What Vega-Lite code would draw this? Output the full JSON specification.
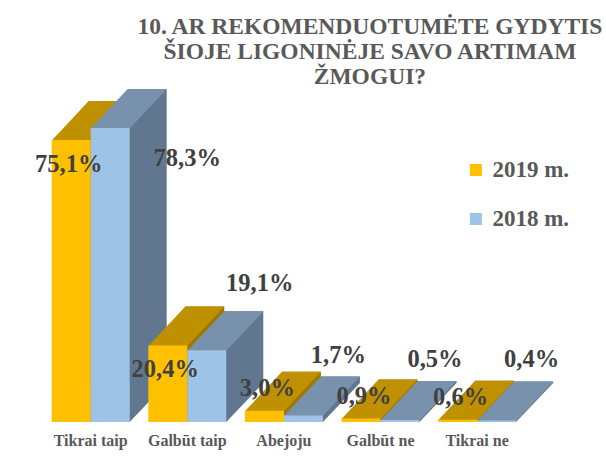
{
  "$schema": "https://vega.github.io/schema/vega-lite/v6.json",
  "width": 483,
  "height": 375.5,
  "autosize": {"type": "none"},
  "padding": {"left": 42.4, "top": 46.5, "right": 80.6, "bottom": 35},
  "background": "white",
  "title": {
    "text": ["10. AR REKOMENDUOTUMĖTE GYDYTIS", "ŠIOJE LIGONINĖJE SAVO ARTIMAM", "ŽMOGUI?"],
    "font": "Liberation Serif",
    "fontWeight": "bold",
    "fontSize": 23.5,
    "color": "#595959",
    "lineHeight": 25,
    "anchor": "middle",
    "frame": "group",
    "dx": 86,
    "dy": 75,
    "offset": 14,
    "baseline": "alphabetic"
  },
  "data": {
    "values": [
      {"cat": "Tikrai taip", "series": "2019 m.", "value": 75.1, "label": "75,1%"},
      {"cat": "Tikrai taip", "series": "2018 m.", "value": 78.3, "label": "78,3%"},
      {"cat": "Galbūt taip", "series": "2019 m.", "value": 20.4, "label": "20,4%"},
      {"cat": "Galbūt taip", "series": "2018 m.", "value": 19.1, "label": "19,1%"},
      {"cat": "Abejoju", "series": "2019 m.", "value": 3.0, "label": "3,0%"},
      {"cat": "Abejoju", "series": "2018 m.", "value": 1.7, "label": "1,7%"},
      {"cat": "Galbūt ne", "series": "2019 m.", "value": 0.9, "label": "0,9%"},
      {"cat": "Galbūt ne", "series": "2018 m.", "value": 0.5, "label": "0,5%"},
      {"cat": "Tikrai ne", "series": "2019 m.", "value": 0.6, "label": "0,6%"},
      {"cat": "Tikrai ne", "series": "2018 m.", "value": 0.4, "label": "0,4%"}
    ]
  },
  "encoding": {
    "x": {
      "field": "cat",
      "type": "nominal",
      "sort": ["Tikrai taip", "Galbūt taip", "Abejoju", "Galbūt ne", "Tikrai ne"],
      "scale": {"paddingInner": 0.193, "paddingOuter": 0.0965},
      "axis": {
        "title": null,
        "domain": false,
        "ticks": false,
        "grid": false,
        "labelAngle": 0,
        "labelFont": "Liberation Serif",
        "labelFontWeight": "bold",
        "labelFontSize": 16,
        "labelColor": "#595959",
        "labelPadding": 10
      }
    }
  },
  "layer": [
    {
      "mark": {"type": "bar", "yOffset": -39, "y2Offset": -39},
      "encoding": {
        "xOffset": {"field": "series", "type": "nominal", "sort": ["2019 m.", "2018 m."], "scale": {"domain": ["2019 m.", "2018 m."], "range": [37, 114.96]}},
        "y": {"field": "value", "type": "quantitative", "scale": {"domain": [0, 100]}, "axis": null},
        "fill": {"condition": {"test": "datum.series == '2019 m.'", "value": "#9E7700"}, "value": "#60778F"}
      }
    },
    {
      "mark": {"type": "point", "shape": "M19,0.5L57,-39.5L19,-39.5Z", "size": 4, "filled": true, "opacity": 1, "strokeWidth": 0},
      "encoding": {
        "xOffset": {"field": "series", "type": "nominal", "sort": ["2019 m.", "2018 m."], "scale": {"domain": ["2019 m.", "2018 m."]}},
        "y": {"datum": 0, "type": "quantitative"},
        "fill": {"condition": {"test": "datum.series == '2019 m.'", "value": "#9E7700"}, "value": "#60778F"}
      }
    },
    {
      "mark": {"type": "point", "shape": "M-19.5,0.5L19.5,0.5L56.5,-39L17.5,-39Z", "size": 4, "filled": true, "opacity": 1, "strokeWidth": 0},
      "encoding": {
        "xOffset": {"field": "series", "type": "nominal", "sort": ["2019 m.", "2018 m."], "scale": {"domain": ["2019 m.", "2018 m."]}},
        "y": {"field": "value", "type": "quantitative"},
        "fill": {"condition": {"test": "datum.series == '2019 m.'", "value": "#BF9000"}, "value": "#7892AE"}
      }
    },
    {
      "mark": {"type": "bar"},
      "encoding": {
        "xOffset": {"field": "series", "type": "nominal", "sort": ["2019 m.", "2018 m."], "scale": {"domain": ["2019 m.", "2018 m."]}},
        "y": {"field": "value", "type": "quantitative"},
        "color": {
          "field": "series",
          "type": "nominal",
          "scale": {"domain": ["2019 m.", "2018 m."], "range": ["#FFC000", "#9DC3E6"]},
          "legend": {
            "orient": "none",
            "legendX": 422,
            "legendY": 112,
            "title": null,
            "symbolType": "square",
            "symbolSize": 144,
            "symbolStrokeWidth": 0,
            "labelFont": "Liberation Serif",
            "labelFontWeight": "bold",
            "labelFontSize": 23,
            "labelColor": "#595959",
            "labelOffset": 5,
            "rowPadding": 25,
            "padding": 0
          }
        }
      }
    },
    {
      "transform": [{"filter": "datum.series == '2019 m.' && datum.value > 10"}],
      "mark": {"type": "text", "font": "Liberation Serif", "fontWeight": "bold", "fontSize": 24.5, "color": "#404040", "baseline": "middle", "align": "center", "dx": -2.5, "dy": 25},
      "encoding": {
        "xOffset": {"field": "series", "type": "nominal", "scale": {"domain": ["2019 m.", "2018 m."]}},
        "y": {"field": "value", "type": "quantitative"},
        "text": {"field": "label"}
      }
    },
    {
      "transform": [{"filter": "datum.series == '2019 m.' && datum.value <= 10"}],
      "mark": {"type": "text", "font": "Liberation Serif", "fontWeight": "bold", "fontSize": 24.5, "color": "#404040", "baseline": "middle", "align": "center", "dx": 3, "dy": -22},
      "encoding": {
        "xOffset": {"field": "series", "type": "nominal", "scale": {"domain": ["2019 m.", "2018 m."]}},
        "y": {"field": "value", "type": "quantitative"},
        "text": {"field": "label"}
      }
    },
    {
      "transform": [{"filter": "datum.series == '2018 m.' && datum.value > 50"}],
      "mark": {"type": "text", "font": "Liberation Serif", "fontWeight": "bold", "fontSize": 24.5, "color": "#404040", "baseline": "middle", "align": "center", "dx": 77, "dy": 31},
      "encoding": {
        "xOffset": {"field": "series", "type": "nominal", "scale": {"domain": ["2019 m.", "2018 m."]}},
        "y": {"field": "value", "type": "quantitative"},
        "text": {"field": "label"}
      }
    },
    {
      "transform": [{"filter": "datum.series == '2018 m.' && datum.value > 10 && datum.value <= 50"}],
      "mark": {"type": "text", "font": "Liberation Serif", "fontWeight": "bold", "fontSize": 24.5, "color": "#404040", "baseline": "middle", "align": "center", "dx": 53, "dy": -66},
      "encoding": {
        "xOffset": {"field": "series", "type": "nominal", "scale": {"domain": ["2019 m.", "2018 m."]}},
        "y": {"field": "value", "type": "quantitative"},
        "text": {"field": "label"}
      }
    },
    {
      "transform": [{"filter": "datum.series == '2018 m.' && datum.value <= 10"}],
      "mark": {"type": "text", "font": "Liberation Serif", "fontWeight": "bold", "fontSize": 24.5, "color": "#404040", "baseline": "middle", "align": "center", "dx": 35, "dy": -60},
      "encoding": {
        "xOffset": {"field": "series", "type": "nominal", "scale": {"domain": ["2019 m.", "2018 m."]}},
        "y": {"field": "value", "type": "quantitative"},
        "text": {"field": "label"}
      }
    }
  ],
  "resolve": {"scale": {"xOffset": "independent"}},
  "config": {
    "font": "Liberation Serif",
    "title": {"font": "Liberation Serif", "fontWeight": "bold"},
    "view": {"stroke": null},
    "axisY": {"grid": false}
  }
}
